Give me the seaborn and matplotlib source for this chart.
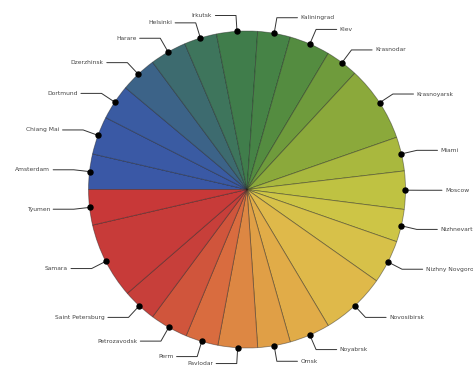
import matplotlib
matplotlib.use("Agg")
import matplotlib.pyplot as plt
import numpy as np
import seaborn as sns

# city shares
cities = ["Amsterdam", "Chiang Mai", "Dortmund", "Dzerzhinsk", "Harare", "Helsinki",
          "Irkutsk", "Kaliningrad", "Kiev", "Krasnodar", "Krasnoyarsk", "Miami",
          "Moscow", "Nizhnevartovsk", "Nizhny Novgorod", "Novosibirsk", "Noyabrsk",
          "Omsk", "Pavlodar", "Perm", "Petrozavodsk", "Saint Petersburg", "Samara",
          "Tyumen"]
values = [13, 14, 13, 13.5, 13.5, 12, 15, 12, 15, 12, 28, 12.5,
          14, 12, 16, 24, 15, 12, 14.5, 12, 14, 12.5, 28, 13]

sns.set_theme(style="white")
colors = sns.blend_palette(["#3a58a6", "#3a5aa4", "#3d6a72", "#3f7c4c", "#4a8742",
                            "#7ea33a", "#b8c040", "#d3c648", "#e2b64a", "#e09c46",
                            "#d8683e", "#c63d3a", "#c83838"], n_colors=len(cities))

fig = plt.figure(figsize=(4.73, 3.67), dpi=100)
ax = fig.add_axes([0, 0, 1, 1])

wedges, _ = ax.pie(values, colors=colors, startangle=180, counterclock=False,
                   radius=1, center=(0, 0),
                   wedgeprops=dict(edgecolor=(0.1, 0.1, 0.1, 0.45), linewidth=0.6))

R = 158.5
ax.set_xlim(-247 / R, (473 - 247) / R)
ax.set_ylim(-(367 - 189.5) / R, 189.5 / R)
ax.set_aspect("auto")
ax.axis("off")

for w, name in zip(wedges, cities):
    ang = np.deg2rad((w.theta2 + w.theta1) / 2)
    x, y = np.cos(ang), np.sin(ang)
    ex, ey = 1.1 * x, 1.1 * y
    side = 1 if x >= 0 else -1
    lx = ex + side * 0.13
    tx = ex + side * 0.15
    ax.plot([x, ex, lx], [y, ey, ey], color="#333333", lw=0.7, zorder=3)
    ax.plot(x, y, "o", color="black", ms=3.6, zorder=4)
    ax.text(tx, ey, name, fontsize=4.3, color="#444444", va="center",
            ha="left" if side > 0 else "right")

fig.savefig("out.png", dpi=100)
